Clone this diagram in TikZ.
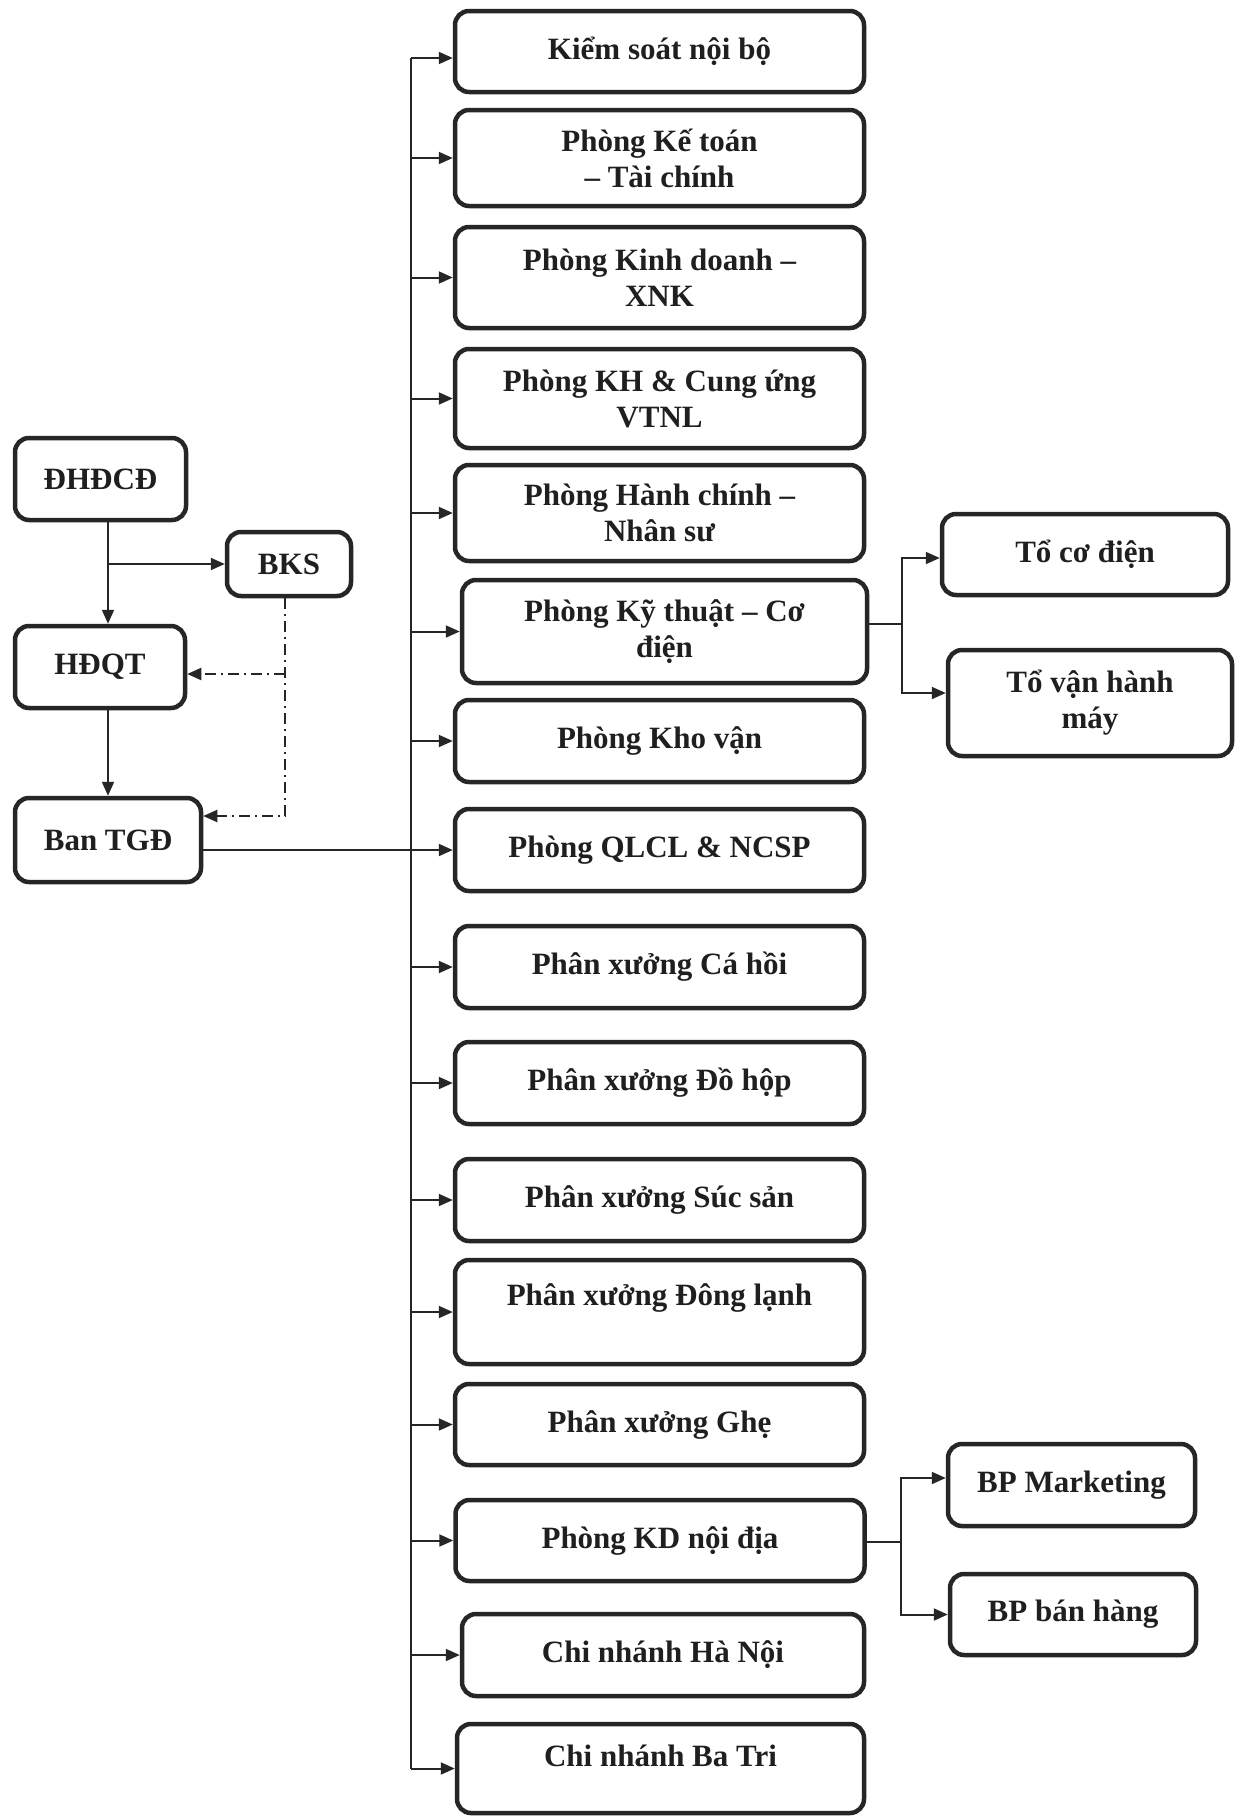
\documentclass[tikz,border=0pt]{standalone}
\usepackage{fontspec}
\setmainfont{Liberation Serif}
\usetikzlibrary{arrows.meta,calc}
\begin{document}
\begin{tikzpicture}[x=1pt,y=-1pt,
  box/.style={draw=black!85, line width=4.5pt, rounded corners=14pt, fill=white, align=center,
    font=\fontsize{31}{36}\selectfont\bfseries, text=black!88, inner sep=2pt},
  mid/.style={box, minimum width=409pt},
  plain/.style={align=center, font=\fontsize{31}{36}\selectfont\bfseries, text=black!88, inner sep=0pt},
  line/.style={draw=black!85, line width=2pt},
  arr/.style={line, -{Triangle[length=14pt,width=12pt]}},
  dda/.style={arr, dash pattern=on 11pt off 5pt on 2pt off 5pt},
]
\useasboundingbox[fill=white] (0,0) rectangle (1241,1818);

% left column
\node[box, minimum width=171pt, minimum height=82pt] (dhdcd) at (100.5,479) {ĐHĐCĐ};
\node[box, minimum width=124pt, minimum height=64pt] (bks) at (289,564) {BKS};
\node[box, minimum width=170pt, minimum height=82pt] (hdqt) at (100,667) {HĐQT};
\node[box, minimum width=186pt, minimum height=84pt] (tgd) at (108,840) {Ban TGĐ};

% middle column
\node[mid, minimum height=81pt] (ks) at (659.5,51.5) {Kiểm soát nội bộ};
\node[mid, minimum height=96pt] (kt) at (659.5,158) {Phòng Kế toán\\– Tài chính};
\node[mid, minimum height=101pt] (kd) at (659.5,277.5) {Phòng Kinh doanh –\\XNK};
\node[mid, minimum height=99pt] (kh) at (659.5,398.5) {Phòng KH \& Cung ứng\\VTNL};
\node[mid, minimum height=96pt] (hc) at (659.5,513) {Phòng Hành chính –\\Nhân sư};
\node[box, minimum width=405pt, minimum height=103pt] (kyt) at (664.5,631.5) {Phòng Kỹ thuật – Cơ\\điện};
\node[mid, minimum height=82pt] (kv) at (659.5,741) {Phòng Kho vận};
\node[mid, minimum height=82pt] (ql) at (659.5,850) {Phòng QLCL \& NCSP};
\node[mid, minimum height=82pt] (ch) at (659.5,967) {Phân xưởng Cá hồi};
\node[mid, minimum height=82pt] (dh) at (659.5,1083) {Phân xưởng Đồ hộp};
\node[mid, minimum height=82pt] (ss) at (659.5,1200) {Phân xưởng Súc sản};
\node[mid, minimum height=104pt] (dl) at (659.5,1312) {};
\node[plain] (dlt) at (659.5,1298) {Phân xưởng Đông lạnh};
\node[mid, minimum height=81pt] (gh) at (659.5,1424.5) {Phân xưởng Ghẹ};
\node[mid, minimum height=81pt] (kdnd) at (660,1540.5) {Phòng KD nội địa};
\node[box, minimum width=402pt, minimum height=82pt] (hn) at (663,1655) {Chi nhánh Hà Nội};
\node[box, minimum width=407pt, minimum height=89pt] (bt) at (660.5,1768.5) {};
\node[plain] (btt) at (660.5,1756) {Chi nhánh Ba Tri};

% right column
\node[box, minimum width=286pt, minimum height=81pt] (tcd) at (1085,554.5) {Tổ cơ điện};
\node[box, minimum width=284pt, minimum height=106pt] (tvh) at (1090,703) {Tổ vận hành\\máy};
\node[box, minimum width=247pt, minimum height=82pt] (bpm) at (1071.5,1485) {BP Marketing};
\node[box, minimum width=246pt, minimum height=81pt] (bpb) at (1073,1614.5) {BP bán hàng};

% coordinates
\coordinate (tx) at (411,0);
\coordinate (lx) at (108,0);
\coordinate (d1) at (285,674);
\coordinate (d2) at (285,816);
\coordinate (b1) at (902,624);
\coordinate (b2) at (901,1542);

% left connectors
\draw[arr] (dhdcd.south -| lx) -- (hdqt.north -| lx);
\draw[arr] (lx |- bks.west) -- (bks.west);
\draw[arr] (hdqt.south -| lx) -- (tgd.north -| lx);
\draw[dda] (bks.south -| d1) -- (d2) -- (d2 -| tgd.east);
\draw[dda] (d1) -- (d1 -| hdqt.east);
\draw[arr] (ql.west -| tgd.east) -- (ql.west);

% trunk
\draw[line] ([yshift=-6.5pt]ks.west -| tx) -- (bt.west -| tx);
\draw[arr] ([yshift=-6.5pt]ks.west -| tx) -- ([yshift=-6.5pt]ks.west);
\foreach \n in {kt,kd,kh,hc,kyt,kv,ch,dh,ss,dl,gh,kdnd,hn,bt}
  \draw[arr] (\n.west -| tx) -- (\n.west);

% branches
\draw[line] (kyt.east |- b1) -- (b1);
\draw[arr] (b1) |- ([yshift=-3.5pt]tcd.west);
\draw[arr] (b1) |- ([yshift=10pt]tvh.west);
\draw[line] (kdnd.east |- b2) -- (b2);
\draw[arr] (b2) |- ([yshift=7pt]bpm.west);
\draw[arr] (b2) |- (bpb.west);
\end{tikzpicture}
\end{document}
